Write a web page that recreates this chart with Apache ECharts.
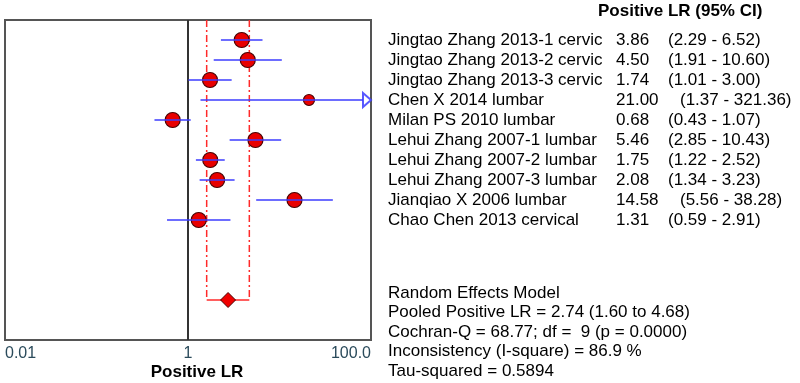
<!DOCTYPE html>
<html>
<head>
<meta charset="utf-8">
<script src="https://cdn.jsdelivr.net/npm/echarts@6/dist/echarts.min.js"></script>
<style>html,body{margin:0;padding:0;background:#fff;}#c{width:800px;height:383px;}</style>
</head>
<body>
<div id="c"></div>
<script>
const studies = [
  'Jingtao Zhang 2013-1 cervic',
  'Jingtao Zhang 2013-2 cervic',
  'Jingtao Zhang 2013-3 cervic',
  'Chen X 2014 lumbar',
  'Milan PS 2010 lumbar',
  'Lehui Zhang 2007-1 lumbar',
  'Lehui Zhang 2007-2 lumbar',
  'Lehui Zhang 2007-3 lumbar',
  'Jianqiao X 2006 lumbar',
  'Chao Chen 2013 cervical'
];
const lrValues = [3.86, 4.50, 1.74, 21.00, 0.68, 5.46, 1.75, 2.08, 14.58, 1.31];
const ciLow    = [2.29, 1.91, 1.01, 1.37, 0.43, 2.85, 1.22, 1.34, 5.56, 0.59];
const ciHigh   = [6.52, 10.60, 3.00, 321.36, 1.07, 10.43, 2.52, 3.23, 38.28, 2.91];
const pooled = { est: 2.74, low: 1.60, high: 4.68 };
const pooledRow = 13;
const xTickLabels = { '-2': '0.01', '0': '1', '2': '100.0' };
const statsLines = [
  'Random Effects Model',
  'Pooled Positive LR = 2.74 (1.60 to 4.68)',
  'Cochran-Q = 68.77; df =  9 (p = 0.0000)',
  'Inconsistency (I-square) = 86.9 %',
  'Tau-squared = 0.5894'
];
const headerText = 'Positive LR (95% CI)';
const axisTitle = 'Positive LR';

const XMIN = 0.01, XMAX = 100;
const FONT = 'Arial, "Liberation Sans", sans-serif';
const chart = echarts.init(document.getElementById('c'), null, { renderer: 'canvas' });

const rowIdx = studies.map((_, i) => i);

const option = {
  animation: false,
  grid: { left: 5, right: 429, top: 20, height: 320, show: true, borderColor: '#555', borderWidth: 2, backgroundColor: 'transparent' },
  xAxis: {
    type: 'log', logBase: 10, min: XMIN, max: XMAX,
    axisLine: { show: false }, axisTick: { show: false }, splitLine: { show: false },
    axisLabel: {
      margin: 6, fontSize: 16, color: '#2b4b5b', fontFamily: FONT,
      alignMinLabel: 'left', alignMaxLabel: 'right',
      formatter: v => {
        const k = Math.round(Math.log10(v));
        return xTickLabels[String(k)] !== undefined ? xTickLabels[String(k)] : '';
      }
    }
  },
  yAxis: { type: 'value', min: -1, max: 15, inverse: true, show: false },
  graphic: [
    { type: 'text', left: 598, top: 3, style: { text: headerText, font: 'bold 17px ' + FONT, fill: '#000' } },
    { type: 'text', x: 197, y: 372, style: { text: axisTitle, font: 'bold 17px ' + FONT, fill: '#000', align: 'center', verticalAlign: 'middle' } }
  ].concat(statsLines.map((t, k) => ({
    type: 'text', x: 388, y: 293 + k * 19.5,
    style: { text: t, font: '17px ' + FONT, fill: '#000', verticalAlign: 'middle' }
  }))),
  series: [
    // reference line at 1
    {
      type: 'custom', silent: true, z: 2,
      data: [[1]],
      renderItem: (params, api) => {
        const a = api.coord([api.value(0), -1]);
        const b = api.coord([api.value(0), 15]);
        return { type: 'line', shape: { x1: a[0], y1: a[1], x2: b[0], y2: b[1] }, style: { stroke: '#333', lineWidth: 2 } };
      }
    },
    // pooled CI dashed lines
    {
      type: 'custom', silent: true, z: 3,
      data: [[pooled.low, pooled.high, pooledRow]],
      renderItem: (params, api) => {
        const lo = api.value(0), hi = api.value(1), r = api.value(2);
        const aT = api.coord([lo, -1]), aB = api.coord([lo, r]);
        const bT = api.coord([hi, -1]), bB = api.coord([hi, r]);
        const dash = { stroke: '#ff2a2a', lineWidth: 1.5, lineDash: [7, 3, 2, 3] };
        return { type: 'group', children: [
          { type: 'line', shape: { x1: aT[0], y1: aT[1], x2: aB[0], y2: aB[1] }, style: dash },
          { type: 'line', shape: { x1: bT[0], y1: bT[1], x2: bB[0], y2: bB[1] }, style: dash },
          { type: 'line', shape: { x1: aB[0], y1: aB[1], x2: bB[0], y2: bB[1] }, style: { stroke: '#ff2a2a', lineWidth: 1.5 } }
        ]};
      }
    },
    // study point estimates
    {
      type: 'scatter', silent: true, z: 4,
      data: rowIdx.map(i => [lrValues[i], i]),
      symbol: 'circle',
      symbolSize: (val, p) => (ciHigh[p.dataIndex] > XMAX ? 11 : 15),
      itemStyle: { color: '#e80000', borderColor: '#4a0000', borderWidth: 1.2, opacity: 1 }
    },
    // study CI lines (drawn over the markers)
    {
      type: 'custom', silent: true, z: 5,
      data: rowIdx.map(i => [ciLow[i], ciHigh[i], i]),
      renderItem: (params, api) => {
        const lo = api.value(0), hi = api.value(1), r = api.value(2);
        const a = api.coord([Math.max(lo, XMIN), r]);
        const over = hi > XMAX;
        const b = api.coord([Math.min(hi, XMAX), r]);
        const children = [];
        const endX = over ? b[0] - 8 : b[0];
        children.push({ type: 'line', shape: { x1: a[0], y1: a[1], x2: endX, y2: b[1] }, style: { stroke: '#3c3cff', lineWidth: 2, opacity: 0.75 } });
        if (over) {
          children.push({ type: 'polygon', shape: { points: [[b[0] - 8, b[1] - 7], [b[0], b[1]], [b[0] - 8, b[1] + 7]] },
            style: { fill: '#fff', stroke: '#3c3cff', lineWidth: 2, opacity: 0.85 } });
        }
        return { type: 'group', children };
      }
    },
    // pooled diamond
    {
      type: 'scatter', silent: true, z: 6,
      data: [[pooled.est, pooledRow]],
      symbol: 'diamond', symbolSize: [15, 15],
      itemStyle: { color: '#f00000', borderColor: '#4a0000', borderWidth: 1, opacity: 1 }
    },
    // right-side text table
    {
      type: 'custom', silent: true, z: 7,
      data: rowIdx.map(i => [1, i]),
      renderItem: (params, api) => {
        const i = params.dataIndex;
        const y = api.coord([1, api.value(1)])[1];
        const est = lrValues[i];
        const ciX = est >= 10 ? 680 : 668;
        const f = '17px ' + FONT;
        return { type: 'group', children: [
          { type: 'text', x: 388, y, style: { text: studies[i], font: f, fill: '#000', verticalAlign: 'middle' } },
          { type: 'text', x: 616, y, style: { text: est.toFixed(2), font: f, fill: '#000', verticalAlign: 'middle' } },
          { type: 'text', x: ciX, y, style: { text: '(' + ciLow[i].toFixed(2) + ' - ' + ciHigh[i].toFixed(2) + ')', font: f, fill: '#000', verticalAlign: 'middle' } }
        ]};
      }
    }
  ]
};
chart.setOption(option);
</script>
</body>
</html>
